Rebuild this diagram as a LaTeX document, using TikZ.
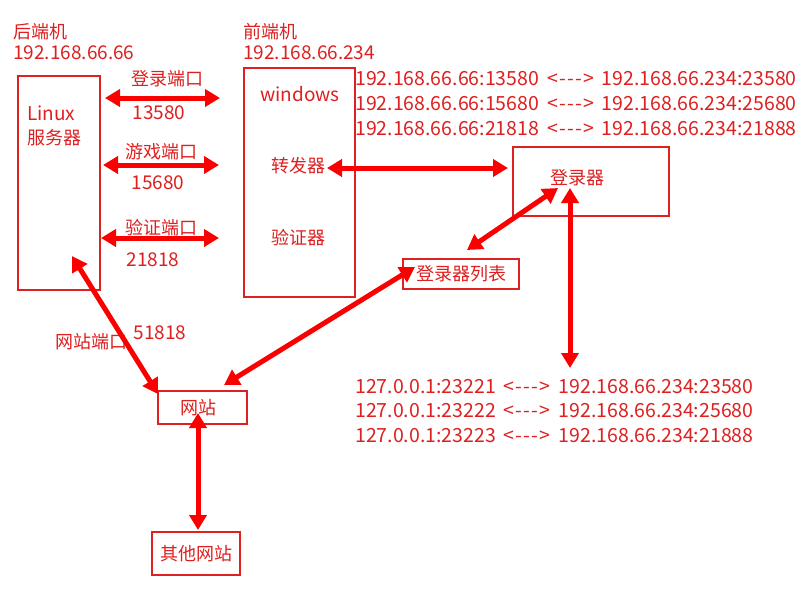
\documentclass[tikz,border=0pt]{standalone}
\usepackage{fontspec}
\setmainfont{Noto Sans CJK SC}
\usetikzlibrary{arrows.meta}
\definecolor{tred}{RGB}{222,32,32}
\definecolor{ared}{RGB}{250,0,0}
\tikzset{
  txt/.style={text=tred, font=\fontsize{18}{25}\selectfont, inner sep=0pt},
  lat/.style={text=tred, font=\fontsize{19}{25}\selectfont, inner sep=0pt},
  ipl/.style={text=tred, font=\fontsize{19.5}{25}\selectfont, inner sep=0pt, anchor=west},
  box/.style={draw=tred, line width=1.6pt, inner sep=0pt, text=tred, font=\fontsize{18}{25}\selectfont},
  conn/.style={draw=ared, line width=5pt, {Triangle[length=15pt,width=17pt]}-{Triangle[length=15pt,width=17pt]}},
}
\newcommand{\lra}{\kern8pt<\kern1.2pt-\kern1.2pt-\kern1.2pt-\kern1.2pt>\kern8pt}
\begin{document}
\begin{tikzpicture}[x=1pt,y=-1pt]
\useasboundingbox[fill=white] (0,0) rectangle (800,600);
% boxes
\node[box, minimum width=82pt, minimum height=214pt] (linux) at (59,183) {};
\node[box, minimum width=111pt, minimum height=229pt] (win) at (299.5,182.5) {};
\node[box, minimum width=156pt, minimum height=69pt] (login) at (591,181.5) {};
\node[box, minimum width=116pt, minimum height=30pt] (list) at (461,274) {登录器列表};
\node[box, minimum width=89pt, minimum height=33pt] (web) at (202.5,407.5) {\hspace*{-9pt}网站};
\node[box, minimum width=88pt, minimum height=43pt] (other) at (196,553.5) {其他网站};
% texts
\node[txt, anchor=west] (t1) at (13,32) {后端机};
\node[lat, anchor=west] (t2) at (13,53) {192.168.66.66};
\node[txt, anchor=west] (t3) at (243,32) {前端机};
\node[lat, anchor=west] (t4) at (243,53) {192.168.66.234};
\node[lat, anchor=west] (t5) at (27,113) {Linux};
\node[txt, anchor=west] (t6) at (27,138) {服务器};
\node[lat] (t7) at (300,94) {windows};
\node[txt] (fwd) at (298,166) {转发器};
\node[txt] (t9) at (298,238) {验证器};
\node[txt] (t10) at (577,178) {登录器};
\node[txt] (p1) at (167.5,79) {登录端口};
\node[lat] (p2) at (159,113) {13580};
\node[txt] (p3) at (161,152) {游戏端口};
\node[lat] (p4) at (158,183) {15680};
\node[txt] (p5) at (161,228) {验证端口};
\node[lat] (p6) at (153,260) {21818};
\node[txt] (p7) at (91,342) {网站端口};
\node[lat] (p8) at (160,333) {51818};
\node[ipl] (m1) at (355,79) {192.168.66.66:13580\lra{}192.168.66.234:23580};
\node[ipl] (m2) at (355,104) {192.168.66.66:15680\lra{}192.168.66.234:25680};
\node[ipl] (m3) at (355,129) {192.168.66.66:21818\lra{}192.168.66.234:21888};
\node[ipl] (n1) at (355,387) {127.0.0.1:23221\lra{}192.168.66.234:23580};
\node[ipl] (n2) at (355,411) {127.0.0.1:23222\lra{}192.168.66.234:25680};
\node[ipl] (n3) at (355,436) {127.0.0.1:23223\lra{}192.168.66.234:21888};
% connector ends
\coordinate (a1l) at (105,98);  \coordinate (a1r) at (220,98);
\coordinate (a2l) at (103,165); \coordinate (a2r) at (219,165);
\coordinate (a3l) at (101,238); \coordinate (a3r) at (219,238);
\coordinate (a4l) at (327,168); \coordinate (a4r) at (508,168);
\coordinate (a5a) at (558,188); \coordinate (a5b) at (467,250);
\coordinate (a6a) at (570,188); \coordinate (a6b) at (570,368);
\coordinate (a7a) at (415,267); \coordinate (a7b) at (224,385);
\coordinate (a8a) at (72,256);  \coordinate (a8b) at (158,394);
\coordinate (a9a) at (198,413); \coordinate (a9b) at (198,530);
% connectors
\draw[conn] (a1l) -- (a1r);
\draw[conn] (a2l) -- (a2r);
\draw[conn] (a3l) -- (a3r);
\draw[conn] (a4l) -- (a4r);
\draw[conn] (a5a) -- (a5b);
\draw[conn] (a6a) -- (a6b);
\draw[conn] (a7a) -- (a7b);
\draw[conn] (a8a) -- (a8b);
\draw[conn] (a9a) -- (a9b);
\end{tikzpicture}
\end{document}
